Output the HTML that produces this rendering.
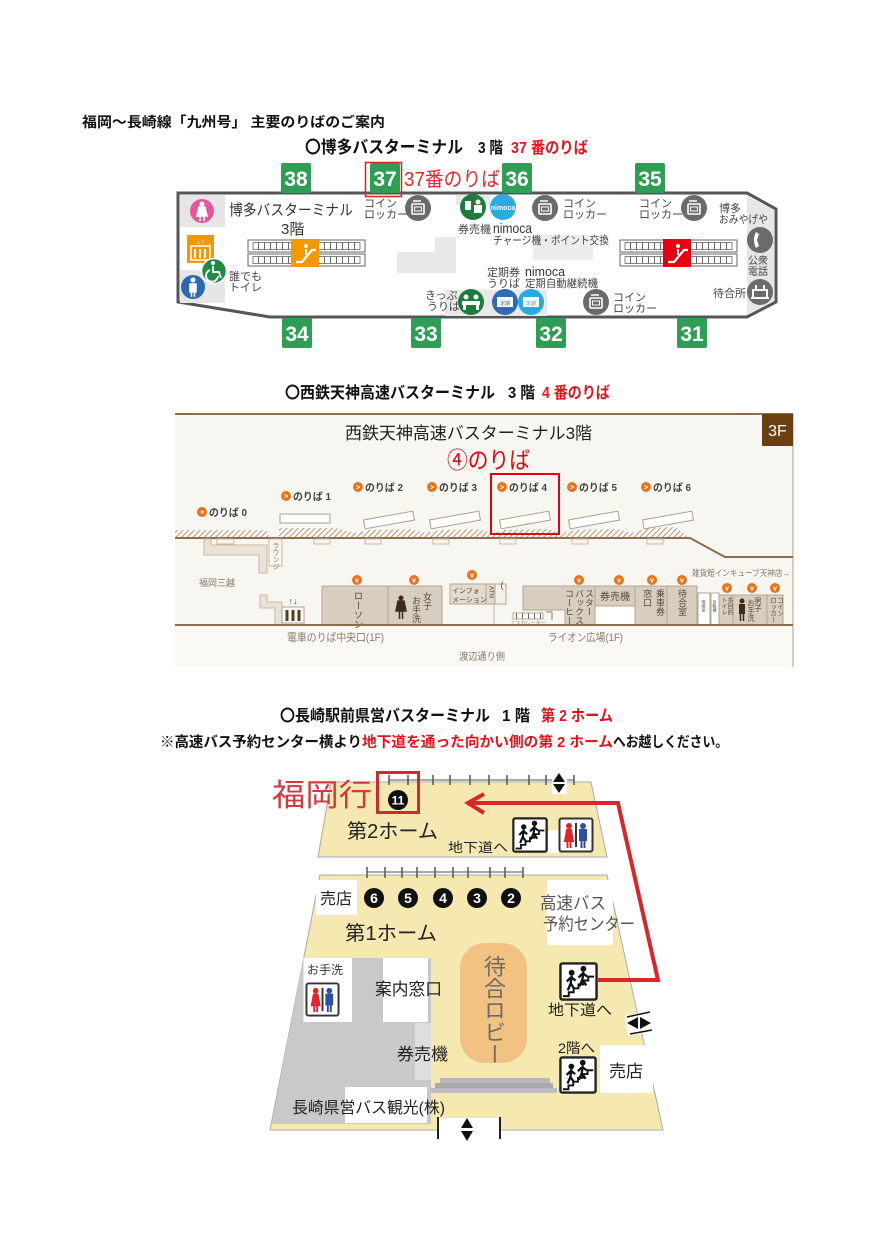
<!DOCTYPE html>
<html><head><meta charset="utf-8"><style>
html,body{margin:0;padding:0;background:#fff;}
svg{display:block;}
text{font-family:"Liberation Sans","Noto Sans CJK JP",sans-serif;}
.v{writing-mode:vertical-rl;}
</style></head><body>
<svg width="892" height="1260" viewBox="0 0 892 1260" xmlns="http://www.w3.org/2000/svg">
<defs>
<pattern id="escp" width="6" height="100" patternUnits="userSpaceOnUse"><rect width="6" height="100" fill="#fff"/><line x1="0.5" y1="0" x2="0.5" y2="100" stroke="#666" stroke-width="1"/></pattern>
<pattern id="hatch" width="4" height="4" patternUnits="userSpaceOnUse" patternTransform="rotate(45)"><line x1="0" y1="0" x2="0" y2="4" stroke="#8c6d4c" stroke-width="1.3"/></pattern>
<symbol id="locker" viewBox="-13 -13 26 26"><circle r="13" fill="#6b6b6b"/><rect x="-6" y="-4" width="12" height="10" rx="1" fill="none" stroke="#fff" stroke-width="1.6"/><rect x="-3.5" y="-1" width="7" height="4" fill="none" stroke="#fff" stroke-width="1"/><path d="M-5,-7 H3" stroke="#fff" stroke-width="1.5"/></symbol>
<symbol id="stairs" viewBox="0 0 40 40"><rect x="1.5" y="1.5" width="37" height="37" rx="2" fill="#fff" stroke="#222" stroke-width="2.5"/><path d="M4,35 H10 V31 H15 V27 H20 V23 H25 V19 H30 V15 H36" stroke="#111" stroke-width="2" fill="none"/><circle cx="13" cy="11" r="3" fill="#111"/><path d="M13,14 L12,22 L9,29 M12,22 L16,28 M12,16 L8,20 M13,16 L17,19" stroke="#111" stroke-width="2.4" fill="none"/><circle cx="25" cy="7" r="3" fill="#111"/><path d="M25,10 L24,18 L21,25 M24,18 L28,24 M24,12 L20,16 M25,12 L29,15" stroke="#111" stroke-width="2.4" fill="none"/></symbol>
<symbol id="wc" viewBox="0 0 36 36"><rect x="1.5" y="1.5" width="33" height="33" rx="2" fill="#fff" stroke="#333" stroke-width="2"/><circle cx="11" cy="9" r="3" fill="#e0262b"/><path d="M7,24 L9,13 H13 L15,24 Z M9.5,24 V31 M12.5,24 V31" fill="#e0262b" stroke="#e0262b" stroke-width="2"/><line x1="18" y1="6" x2="18" y2="30" stroke="#333" stroke-width="2"/><circle cx="25" cy="9" r="3" fill="#2c4fa3"/><path d="M22,13 H28 V23 H22 Z M23.5,23 V31 M26.5,23 V31" fill="#2c4fa3" stroke="#2c4fa3" stroke-width="2"/></symbol>
</defs>
<rect width="892" height="1260" fill="#fff"/>

<!-- Title -->
<text x="82" y="127" font-size="14" font-weight="bold" textLength="303" lengthAdjust="spacingAndGlyphs" fill="#111">福岡～長崎線「九州号」 主要のりばのご案内</text>

<!-- Hakata heading -->
<text x="305" y="153" font-size="17" font-weight="bold" textLength="158" lengthAdjust="spacingAndGlyphs" fill="#111">〇博多バスターミナル</text>
<text x="478" y="153" font-size="16" font-weight="bold" textLength="25" lengthAdjust="spacingAndGlyphs" fill="#111">3 階</text>
<text x="511" y="153" font-size="16" font-weight="bold" textLength="77" lengthAdjust="spacingAndGlyphs" fill="#e8101a">37 番のりば</text>

<!-- Hakata map -->
<polygon points="178,193 747,193 776,209 776,302 747,317 270,317 178,302" fill="#fff" stroke="#555" stroke-width="3"/>
<rect x="180" y="195" width="45" height="32" fill="#e6e6e6"/>
<rect x="180" y="270" width="45" height="33" fill="#e6e6e6"/>
<polygon points="747,196 774,210 774,301 747,315" fill="#e6e6e6"/>
<polygon points="397,252 435,252 435,237 456,237 456,273 397,273" fill="#e8e8e8"/>
<rect x="456" y="195" width="34" height="10" fill="#e8e8e8"/>
<rect x="533" y="235" width="60" height="25" fill="#ececec"/>
<rect x="445" y="290" width="102" height="26" fill="#e8e8e8"/>

<!-- left icons -->
<circle cx="202" cy="211" r="12" fill="#e8559a"/>
<circle cx="202" cy="204" r="2.5" fill="#fff"/><path d="M199,207 H205 L207,216 H197 Z M200,216 V221 M204,216 V221" fill="#fff" stroke="#fff" stroke-width="1.5"/>
<rect x="187" y="235" width="27" height="28" fill="#f39800"/>
<rect x="191" y="246" width="19" height="14" fill="none" stroke="#fff" stroke-width="1.5"/>
<text x="200.5" y="244" font-size="8" fill="#fff" text-anchor="middle" font-weight="bold">↓↑</text>
<path d="M195,249 V258 M200,249 V258 M205,249 V258" stroke="#fff" stroke-width="2"/>
<circle cx="193" cy="287" r="12" fill="#2a6ab4"/>
<circle cx="193" cy="280" r="2.5" fill="#fff"/><path d="M190,284 H196 V292 H190 Z M191.5,292 V297 M194.5,292 V297" fill="#fff" stroke="#fff" stroke-width="1.5"/>
<circle cx="214" cy="271" r="12.5" fill="#1f8a45" stroke="#fff" stroke-width="1.5"/>
<circle cx="213" cy="263" r="2" fill="#fff"/><path d="M213,266 V272 H219 L221,278 M210,270 A6,6 0 1 0 218,276" fill="none" stroke="#fff" stroke-width="1.8"/>
<text x="229" y="215" font-size="15" textLength="124" lengthAdjust="spacingAndGlyphs" fill="#333">博多バスターミナル</text>
<text x="281" y="234" font-size="15" fill="#333">3階</text>
<text x="229" y="280" font-size="11" fill="#444">誰でも</text>
<text x="229" y="291" font-size="11" fill="#444">トイレ</text>

<!-- escalators -->
<rect x="248" y="240" width="117" height="12" fill="#fff" stroke="#666"/>
<rect x="253" y="242.5" width="107" height="7" fill="url(#escp)" stroke="#666" stroke-width="0.8"/>
<rect x="248" y="254" width="117" height="12" fill="#fff" stroke="#666"/>
<rect x="253" y="256.5" width="107" height="7" fill="url(#escp)" stroke="#666" stroke-width="0.8"/>
<rect x="291" y="239" width="28" height="28" fill="#f39800"/>
<path d="M296,262 H302 L312,250 H316" stroke="#fff" stroke-width="2.2" fill="none"/><circle cx="306" cy="246" r="2" fill="#fff"/><path d="M306,249 V255" stroke="#fff" stroke-width="2"/>
<rect x="620" y="240" width="117" height="12" fill="#fff" stroke="#666"/>
<rect x="625" y="242.5" width="107" height="7" fill="url(#escp)" stroke="#666" stroke-width="0.8"/>
<rect x="620" y="254" width="117" height="12" fill="#fff" stroke="#666"/>
<rect x="625" y="256.5" width="107" height="7" fill="url(#escp)" stroke="#666" stroke-width="0.8"/>
<rect x="663" y="239" width="28" height="28" fill="#e60012"/>
<path d="M668,262 H674 L684,250 H688" stroke="#fff" stroke-width="2.2" fill="none"/><circle cx="678" cy="246" r="2" fill="#fff"/><path d="M678,249 V255" stroke="#fff" stroke-width="2"/>

<!-- lockers & icons -->
<use href="#locker" x="405" y="195" width="26" height="26"/>
<use href="#locker" x="532" y="195" width="26" height="26"/>
<use href="#locker" x="681" y="195" width="26" height="26"/>
<use href="#locker" x="583" y="289" width="26" height="26"/>
<text x="364" y="207" font-size="11" fill="#444">コイン</text>
<text x="364" y="218" font-size="11" fill="#444">ロッカー</text>
<text x="563" y="207" font-size="11" fill="#444">コイン</text>
<text x="563" y="218" font-size="11" fill="#444">ロッカー</text>
<text x="639" y="207" font-size="11" fill="#444">コイン</text>
<text x="639" y="218" font-size="11" fill="#444">ロッカー</text>
<text x="613" y="301" font-size="11" fill="#444">コイン</text>
<text x="613" y="312" font-size="11" fill="#444">ロッカー</text>

<circle cx="473" cy="207" r="13" fill="#1e7b3c"/>
<rect x="465" y="201" width="6" height="9" fill="#fff"/><circle cx="478" cy="202" r="2.5" fill="#fff"/><rect x="474" y="205" width="8" height="8" fill="#fff"/>
<circle cx="503" cy="207" r="13" fill="#29abe2"/>
<text x="503" y="210" font-size="7" fill="#fff" font-weight="bold" text-anchor="middle">nimoca</text>
<text x="458" y="233" font-size="11" fill="#444">券売機</text>
<text x="493" y="233" font-size="14" fill="#333" textLength="39" lengthAdjust="spacingAndGlyphs">nimoca</text>
<text x="493" y="244" font-size="11" fill="#444" textLength="116" lengthAdjust="spacingAndGlyphs">チャージ機・ポイント交換</text>

<text x="719" y="212" font-size="11" fill="#444">博多</text>
<text x="719" y="223" font-size="11" fill="#444" textLength="49" lengthAdjust="spacingAndGlyphs">おみやげや</text>
<circle cx="760" cy="240" r="13" fill="#6b6b6b"/>
<path d="M756,232 Q752,240 756,248 L759,246 L757,240 L759,234 Z" fill="#fff"/>
<text x="748" y="264" font-size="10" fill="#444">公衆</text>
<text x="748" y="275" font-size="10" fill="#444">電話</text>
<circle cx="760" cy="292" r="13" fill="#6b6b6b"/>
<path d="M751,298 H769 M753,298 V290 H767 V298 M756,290 V285 M764,290 V285" stroke="#fff" stroke-width="2" fill="none"/>
<text x="713" y="297" font-size="11" fill="#444">待合所</text>

<text x="487" y="276" font-size="11" fill="#444">定期券</text>
<text x="487" y="287" font-size="11" fill="#444">うりば</text>
<text x="525" y="276" font-size="13" fill="#333" textLength="40" lengthAdjust="spacingAndGlyphs">nimoca</text>
<text x="525" y="287" font-size="11" fill="#444" textLength="73" lengthAdjust="spacingAndGlyphs">定期自動継続機</text>
<text x="425" y="299" font-size="11" fill="#444">きっぷ</text>
<text x="427" y="310" font-size="11" fill="#444">うりば</text>
<circle cx="471" cy="302" r="13" fill="#1e7b3c"/>
<circle cx="466" cy="297" r="2.5" fill="#fff"/><circle cx="476" cy="297" r="2.5" fill="#fff"/><rect x="462" y="301" width="18" height="4" fill="#fff"/><rect x="463" y="305" width="3" height="5" fill="#fff"/><rect x="476" y="305" width="3" height="5" fill="#fff"/>
<circle cx="505" cy="302" r="13" fill="#2f6cb5"/>
<rect x="497" y="297" width="16" height="10" fill="#fff"/><text x="505" y="305" font-size="5" fill="#2f6cb5" text-anchor="middle">定期</text>
<circle cx="531" cy="302" r="13" fill="#29abe2"/>
<rect x="523" y="297" width="16" height="10" fill="#fff"/><text x="531" y="305" font-size="5" fill="#29abe2" text-anchor="middle">定期</text>

<!-- badges -->
<g font-size="21" font-weight="bold" fill="#fff" text-anchor="middle">
<rect x="281" y="163" width="30" height="30" rx="2" fill="#2f9e55"/><text x="296" y="186">38</text>
<rect x="370" y="163" width="30" height="30" rx="2" fill="#2f9e55"/><text x="385" y="186">37</text>
<rect x="502" y="163" width="30" height="30" rx="2" fill="#2f9e55"/><text x="517" y="186">36</text>
<rect x="635" y="163" width="30" height="30" rx="2" fill="#2f9e55"/><text x="650" y="186">35</text>
<rect x="282" y="318" width="30" height="30" rx="2" fill="#2f9e55"/><text x="297" y="341">34</text>
<rect x="411" y="318" width="30" height="30" rx="2" fill="#2f9e55"/><text x="426" y="341">33</text>
<rect x="536" y="318" width="30" height="30" rx="2" fill="#2f9e55"/><text x="551" y="341">32</text>
<rect x="677" y="318" width="30" height="30" rx="2" fill="#2f9e55"/><text x="692" y="341">31</text>
</g>
<rect x="365.5" y="162.5" width="36" height="34" fill="none" stroke="#e02020" stroke-width="1.5"/>
<text x="404" y="186" font-size="20" fill="#e8262b" textLength="96" lengthAdjust="spacingAndGlyphs">37番のりば</text>

<!-- Nishitetsu heading -->
<text x="285" y="398" font-size="16" font-weight="bold" textLength="210" lengthAdjust="spacingAndGlyphs" fill="#111">〇西鉄天神高速バスターミナル</text>
<text x="508" y="398" font-size="16" font-weight="bold" textLength="27" lengthAdjust="spacingAndGlyphs" fill="#111">3 階</text>
<text x="542" y="398" font-size="16" font-weight="bold" textLength="68" lengthAdjust="spacingAndGlyphs" fill="#e8101a">4 番のりば</text>

<!-- Nishitetsu map -->
<rect x="175" y="413" width="618" height="254" fill="#f8f6f1"/>
<rect x="175" y="626" width="618" height="41" fill="#faf9f6"/>
<line x1="175" y1="414" x2="793" y2="414" stroke="#8c6d4c" stroke-width="2"/>
<line x1="793" y1="414" x2="793" y2="667" stroke="#b49c80" stroke-width="1"/>
<rect x="762" y="414" width="31" height="32" fill="#6b3f14"/>
<text x="777.5" y="436" font-size="16" fill="#fff" text-anchor="middle">3F</text>
<text x="345" y="439" font-size="17" fill="#222" textLength="247" lengthAdjust="spacingAndGlyphs">西鉄天神高速バスターミナル3階</text>
<text x="447" y="468" font-size="23" fill="#e60012" textLength="83" lengthAdjust="spacingAndGlyphs">④のりば</text>

<g font-size="10.5" font-weight="bold" fill="#444">
<circle cx="202" cy="512" r="5" fill="#e8731a"/><text x="209" y="516" textLength="38" lengthAdjust="spacingAndGlyphs">のりば 0</text>
<circle cx="286" cy="496" r="5" fill="#e8731a"/><text x="293" y="500" textLength="38" lengthAdjust="spacingAndGlyphs">のりば 1</text>
<circle cx="358" cy="487" r="5" fill="#e8731a"/><text x="365" y="491" textLength="38" lengthAdjust="spacingAndGlyphs">のりば 2</text>
<circle cx="432" cy="487" r="5" fill="#e8731a"/><text x="439" y="491" textLength="38" lengthAdjust="spacingAndGlyphs">のりば 3</text>
<circle cx="502" cy="487" r="5" fill="#e8731a"/><text x="509" y="491" textLength="38" lengthAdjust="spacingAndGlyphs">のりば 4</text>
<circle cx="572" cy="487" r="5" fill="#e8731a"/><text x="579" y="491" textLength="38" lengthAdjust="spacingAndGlyphs">のりば 5</text>
<circle cx="646" cy="487" r="5" fill="#e8731a"/><text x="653" y="491" textLength="38" lengthAdjust="spacingAndGlyphs">のりば 6</text>
</g>
<g font-size="7" fill="#fff" font-weight="bold" text-anchor="middle">
<text x="202" y="514.5">&gt;</text><text x="286" y="498.5">&gt;</text><text x="358" y="489.5">&gt;</text><text x="432" y="489.5">&gt;</text><text x="502" y="489.5">&gt;</text><text x="572" y="489.5">&gt;</text><text x="646" y="489.5">&gt;</text>
</g>

<path d="M175,530 H266 L270,538 H279 V528 H336 L354,533 L370,530 L410,529 L425,533 L440,530 L478,529 L492,533 L505,530 L548,529 L560,533 L578,530 L618,529 L632,533 L648,528 L675,527 L690,538 H175 Z" fill="url(#hatch)"/>
<path d="M175,538 H690 L725,557 H793" stroke="#8c6d4c" stroke-width="2" fill="none"/>
<rect x="280" y="514" width="50" height="9" fill="#fff" stroke="#b0a08a"/>
<g fill="#fff" stroke="#b0a08a">
<rect x="364" y="515.5" width="50" height="9" transform="rotate(-10 389 520)"/>
<rect x="430" y="515.5" width="50" height="9" transform="rotate(-10 455 520)"/>
<rect x="500" y="515.5" width="50" height="9" transform="rotate(-10 525 520)"/>
<rect x="569" y="515.5" width="50" height="9" transform="rotate(-10 594 520)"/>
<rect x="643" y="515.5" width="50" height="9" transform="rotate(-10 668 520)"/>
</g>
<rect x="491" y="474" width="68" height="60" fill="none" stroke="#e60012" stroke-width="2"/>
<g fill="#f8f6f1" stroke="#c8b9a3">
<rect x="217" y="539" width="17" height="5"/><rect x="314" y="539" width="16" height="5"/><rect x="365" y="539" width="16" height="5"/><rect x="433" y="539" width="16" height="5"/><rect x="500" y="539" width="16" height="5"/><rect x="572" y="539" width="16" height="5"/><rect x="647" y="539" width="16" height="5"/>
</g>
<path d="M204,539 H211 V545 H267 V573 H259 V555 H204 Z" fill="#e9e2d6" stroke="#c8b9a3"/>
<rect x="269" y="539" width="13" height="27" fill="#f8f6f1" stroke="#c8b9a3"/>
<text x="275.5" y="542" font-size="7" fill="#8a7b6a" class="v">ラウンジ</text>
<text x="199" y="586" font-size="9" fill="#8a7b6a">福岡三越</text>

<path d="M260,595 H267 V602 H282 V625 H275 V608 H260 Z" fill="#e9e2d6" stroke="#c8b9a3"/>
<rect x="282" y="607" width="22" height="16" fill="#fff" stroke="#b0a08a"/>
<path d="M287,610 V621 M293,610 V621 M299,610 V621" stroke="#5a3a1a" stroke-width="3"/>
<text x="293" y="604" font-size="9" fill="#5a4a3a" text-anchor="middle">↑↓</text>

<g fill="#d8cebf" stroke="#b5a68f">
<rect x="322" y="586" width="66" height="39"/>
<rect x="388" y="586" width="54" height="39"/>
<rect x="450" y="584" width="36" height="20" fill="#e3dbcf"/>
<rect x="486" y="584" width="9" height="20" fill="#e3dbcf"/>
<rect x="495" y="584" width="11" height="20" fill="#f4f1ec"/>
<path d="M523,586 H595 V625 H565 V610 H523 Z"/>
<rect x="595" y="586" width="40" height="20"/>
<rect x="595" y="606" width="40" height="19" fill="#fff"/>
<rect x="635" y="586" width="32" height="39"/>
<rect x="667" y="586" width="30" height="39"/>
<rect x="698" y="593" width="12" height="32" fill="#fff"/>
<rect x="711" y="593" width="8" height="32" fill="#fff"/>
<rect x="719" y="595" width="14" height="30"/>
<rect x="733" y="595" width="34" height="30"/>
<rect x="767" y="595" width="16" height="30"/>
</g>
<line x1="494" y1="604" x2="494" y2="625" stroke="#c8b9a3"/>
<rect x="513" y="613" width="30" height="6" fill="url(#escp)" stroke="#8a7b6a" stroke-width="0.6"/>
<text x="528" y="625" font-size="5" fill="#8a7b6a" text-anchor="middle">エスカレーター</text>
<path d="M546,612 H552 V620" stroke="#8a7b6a" fill="none"/>
<g fill="#5a4a3a">
<text x="357" y="591" font-size="9.5" class="v">ローソン</text>
<circle cx="401" cy="598" r="2.5" fill="#3f2a18"/><path d="M398,601 H404 L406,611 H396 Z M399.5,611 V619 M402.5,611 V619" fill="#3f2a18" stroke="#3f2a18" stroke-width="1.5"/>
<text x="427" y="592" font-size="9" class="v">女子</text>
<text x="416" y="596" font-size="9" class="v">お手洗</text>
<text x="452" y="593" font-size="7">インフォ</text>
<text x="452" y="602" font-size="7">メーション</text>
<text x="490.5" y="586" font-size="6" class="v">ATM</text>
<text x="500.5" y="588" font-size="9">(</text>
<text x="589" y="589" font-size="9" class="v">スター</text>
<text x="579" y="589" font-size="9" class="v">バックス</text>
<text x="569" y="589" font-size="9" class="v">コーヒー</text>
<text x="600" y="600" font-size="10">券売機</text>
<text x="660" y="589" font-size="9" class="v">乗車券</text>
<text x="647" y="589" font-size="9" class="v">窓口</text>
<text x="682" y="589" font-size="9" class="v">待合室</text>
<text x="704" y="600" font-size="4" class="v">喫煙室</text>
<text x="715" y="600" font-size="4" class="v">自販機</text>
<text x="729" y="597" font-size="6" class="v">多目的</text>
<text x="723" y="597" font-size="6" class="v">トイレ</text>
<circle cx="742" cy="601" r="2.5" fill="#3f2a18"/><rect x="739" y="604" width="6" height="10" fill="#3f2a18"/><path d="M740.5,614 V621 M743.5,614 V621" stroke="#3f2a18" stroke-width="1.5"/>
<text x="758" y="597" font-size="7.5" class="v">男子</text>
<text x="751" y="599" font-size="7.5" class="v">お手洗</text>
<text x="779" y="597" font-size="6.5" class="v">コイン</text>
<text x="772" y="597" font-size="6.5" class="v">ロッカー</text>
</g>
<g fill="#e8731a">
<circle cx="357" cy="580" r="5"/><circle cx="414" cy="580" r="5"/><circle cx="472" cy="575" r="5"/><circle cx="579" cy="580" r="5"/><circle cx="619" cy="580" r="5"/><circle cx="652" cy="580" r="5"/><circle cx="682" cy="580" r="5"/><circle cx="727" cy="588" r="5"/><circle cx="752" cy="588" r="5"/><circle cx="775" cy="588" r="5"/>
</g>
<g font-size="7" fill="#fff" font-weight="bold" text-anchor="middle">
<text x="357" y="582.5">v</text><text x="414" y="582.5">v</text><text x="472" y="577.5">v</text><text x="579" y="582.5">v</text><text x="619" y="582.5">v</text><text x="652" y="582.5">v</text><text x="682" y="582.5">v</text><text x="727" y="590.5">v</text><text x="752" y="590.5">v</text><text x="775" y="590.5">v</text>
</g>
<text x="692" y="576" font-size="8.5" fill="#8a7b6a" textLength="98" lengthAdjust="spacingAndGlyphs">雑貨館インキューブ天神店→</text>
<line x1="175" y1="625" x2="793" y2="625" stroke="#8c6d4c" stroke-width="2"/>
<text x="287" y="641" font-size="11" fill="#8a7b6a" textLength="97" lengthAdjust="spacingAndGlyphs">電車のりば中央口(1F)</text>
<text x="548" y="641" font-size="11" fill="#8a7b6a" textLength="75" lengthAdjust="spacingAndGlyphs">ライオン広場(1F)</text>
<text x="459" y="660" font-size="10" fill="#8a7b6a" textLength="46" lengthAdjust="spacingAndGlyphs">渡辺通り側</text>

<!-- Nagasaki heading -->
<text x="280" y="721" font-size="16" font-weight="bold" textLength="210" lengthAdjust="spacingAndGlyphs" fill="#111">〇長崎駅前県営バスターミナル</text>
<text x="502" y="721" font-size="16" font-weight="bold" textLength="28" lengthAdjust="spacingAndGlyphs" fill="#111">1 階</text>
<text x="541" y="721" font-size="16" font-weight="bold" textLength="72" lengthAdjust="spacingAndGlyphs" fill="#e8101a">第 2 ホーム</text>
<text x="160" y="747" font-size="14.5" font-weight="bold" textLength="202" lengthAdjust="spacingAndGlyphs" fill="#111">※高速バス予約センター横より</text>
<text x="362" y="747" font-size="14.5" font-weight="bold" textLength="251" lengthAdjust="spacingAndGlyphs" fill="#e8101a">地下道を通った向かい側の第 2 ホーム</text>
<text x="613" y="747" font-size="14.5" font-weight="bold" textLength="115" lengthAdjust="spacingAndGlyphs" fill="#111">へお越しください。</text>

<!-- Nagasaki map -->
<polygon points="331,782 591,782 607,857 318,857" fill="#f5e9b1" stroke="#aaa" stroke-width="1"/>
<g stroke="#555" stroke-width="1.5">
<line x1="389" y1="780" x2="574" y2="780" stroke-width="1"/>
<line x1="389" y1="775" x2="389" y2="785"/><line x1="408" y1="775" x2="408" y2="785"/><line x1="433" y1="775" x2="433" y2="785"/><line x1="450" y1="775" x2="450" y2="785"/><line x1="470" y1="775" x2="470" y2="785"/><line x1="489" y1="775" x2="489" y2="785"/><line x1="507" y1="775" x2="507" y2="785"/><line x1="529" y1="775" x2="529" y2="785"/><line x1="546" y1="775" x2="546" y2="785"/><line x1="574" y1="775" x2="574" y2="785"/>
</g>
<rect x="552" y="771" width="15" height="23" fill="#fff"/>
<polygon points="553,782 565,782 559,773" fill="#111"/><polygon points="553,784 565,784 559,793" fill="#111"/>
<rect x="377.5" y="772.5" width="41" height="40" fill="none" stroke="#d02a2f" stroke-width="3"/>
<circle cx="398" cy="800" r="10" fill="#111"/>
<text x="398" y="804.5" font-size="12" font-weight="bold" fill="#fff" text-anchor="middle">11</text>
<text x="272" y="806" font-size="31" fill="#d43a3d" textLength="100" lengthAdjust="spacingAndGlyphs">福岡行</text>
<text x="347" y="838" font-size="20" fill="#222" textLength="91" lengthAdjust="spacingAndGlyphs">第2ホーム</text>
<text x="448" y="852" font-size="13" fill="#222" textLength="60" lengthAdjust="spacingAndGlyphs">地下道へ</text>
<rect x="548" y="830" width="11" height="23" fill="#fff"/>
<use href="#stairs" x="512" y="817" width="36" height="36"/>
<use href="#wc" x="558" y="817" width="36" height="36"/>

<polygon points="320,875 607,875 663,1130 270,1130" fill="#f5e9b1" stroke="#aaa" stroke-width="1"/>
<g stroke="#555" stroke-width="1.5">
<line x1="367" y1="872" x2="523" y2="872" stroke-width="1"/>
<line x1="367" y1="867" x2="367" y2="878"/><line x1="385" y1="867" x2="385" y2="878"/><line x1="402" y1="867" x2="402" y2="878"/><line x1="417" y1="867" x2="417" y2="878"/><line x1="435" y1="867" x2="435" y2="878"/><line x1="453" y1="867" x2="453" y2="878"/><line x1="468" y1="867" x2="468" y2="878"/><line x1="490" y1="867" x2="490" y2="878"/><line x1="505" y1="867" x2="505" y2="878"/><line x1="523" y1="867" x2="523" y2="878"/>
</g>
<g fill="#111"><circle cx="374" cy="898" r="10"/><circle cx="408" cy="898" r="10"/><circle cx="443" cy="898" r="10"/><circle cx="477" cy="898" r="10"/><circle cx="511" cy="898" r="10"/></g>
<g font-size="14" font-weight="bold" fill="#fff" text-anchor="middle">
<text x="374" y="903">6</text><text x="408" y="903">5</text><text x="443" y="903">4</text><text x="477" y="903">3</text><text x="511" y="903">2</text>
</g>
<rect x="316" y="880" width="41" height="35" fill="#fff"/>
<text x="320" y="904" font-size="16" fill="#222">売店</text>
<rect x="547" y="880" width="66" height="65" fill="#fff"/>
<text x="540" y="909" font-size="17" fill="#555" textLength="66" lengthAdjust="spacingAndGlyphs">高速バス</text>
<text x="543" y="930" font-size="17" fill="#555" textLength="92" lengthAdjust="spacingAndGlyphs">予約センター</text>
<text x="345" y="940" font-size="20" fill="#222" textLength="92" lengthAdjust="spacingAndGlyphs">第1ホーム</text>

<polygon points="303.5,958 431,958 431,1124 271.5,1124" fill="#c9c9c9"/>
<rect x="303.5" y="958" width="48.5" height="64" fill="#fff"/>
<text x="307" y="974" font-size="12" fill="#333">お手洗</text>
<use href="#wc" x="305" y="982" width="35" height="35"/>
<rect x="383" y="958" width="45" height="64" fill="#fff"/>
<text x="375" y="995" font-size="17" fill="#222" textLength="67" lengthAdjust="spacingAndGlyphs">案内窓口</text>
<rect x="415" y="1023" width="16" height="57" fill="#dedede"/>
<text x="397" y="1060" font-size="17" fill="#222" textLength="51" lengthAdjust="spacingAndGlyphs">券売機</text>
<rect x="345" y="1087" width="82" height="36" fill="#fff"/>
<text x="292" y="1113" font-size="16" fill="#222" textLength="153" lengthAdjust="spacingAndGlyphs">長崎県営バス観光(株)</text>
<rect x="440" y="1078" width="110" height="5" fill="#b8b8b8"/>
<rect x="435" y="1083" width="118" height="5" fill="#a9a9a9"/>
<rect x="430" y="1088" width="127" height="5" fill="#bdbdbd"/>

<rect x="460" y="943" width="67" height="120" rx="25" fill="#f2c283"/>
<text x="493.5" y="955" font-size="22" fill="#6b6b6b" class="v">待合ロビー</text>

<use href="#stairs" x="559" y="962" width="39" height="39"/>
<text x="548" y="1015" font-size="15" fill="#222" textLength="64" lengthAdjust="spacingAndGlyphs">地下道へ</text>
<polygon points="625,1016 652,1010 654,1031 628,1036" fill="#fff"/>
<line x1="627" y1="1017" x2="650" y2="1012" stroke="#111" stroke-width="1.5"/>
<line x1="630" y1="1034" x2="652" y2="1030" stroke="#111" stroke-width="1.5"/>
<polygon points="627,1023 638,1017 638,1029" fill="#111"/><polygon points="651,1023 640,1017 640,1029" fill="#111"/>
<text x="558" y="1053" font-size="14" fill="#222" textLength="37" lengthAdjust="spacingAndGlyphs">2階へ</text>
<use href="#stairs" x="559" y="1056" width="38" height="38"/>
<rect x="600" y="1045" width="53" height="48" fill="#fff"/>
<text x="609" y="1077" font-size="17" fill="#222">売店</text>

<rect x="439" y="1118" width="60" height="22" fill="#fff"/>
<line x1="438" y1="1117" x2="438" y2="1139" stroke="#222" stroke-width="2"/>
<line x1="500" y1="1117" x2="500" y2="1139" stroke="#222" stroke-width="2"/>
<polygon points="461,1128 473,1128 467,1118" fill="#111"/><polygon points="461,1131 473,1131 467,1141" fill="#111"/>

<!-- red route arrow -->
<polyline points="597,980 658,980 618,803 470,803" fill="none" stroke="#d9262b" stroke-width="4" stroke-linejoin="miter"/>
<polyline points="484,794 468,803 484,813" fill="none" stroke="#d9262b" stroke-width="4"/>
</svg>
</body></html>
